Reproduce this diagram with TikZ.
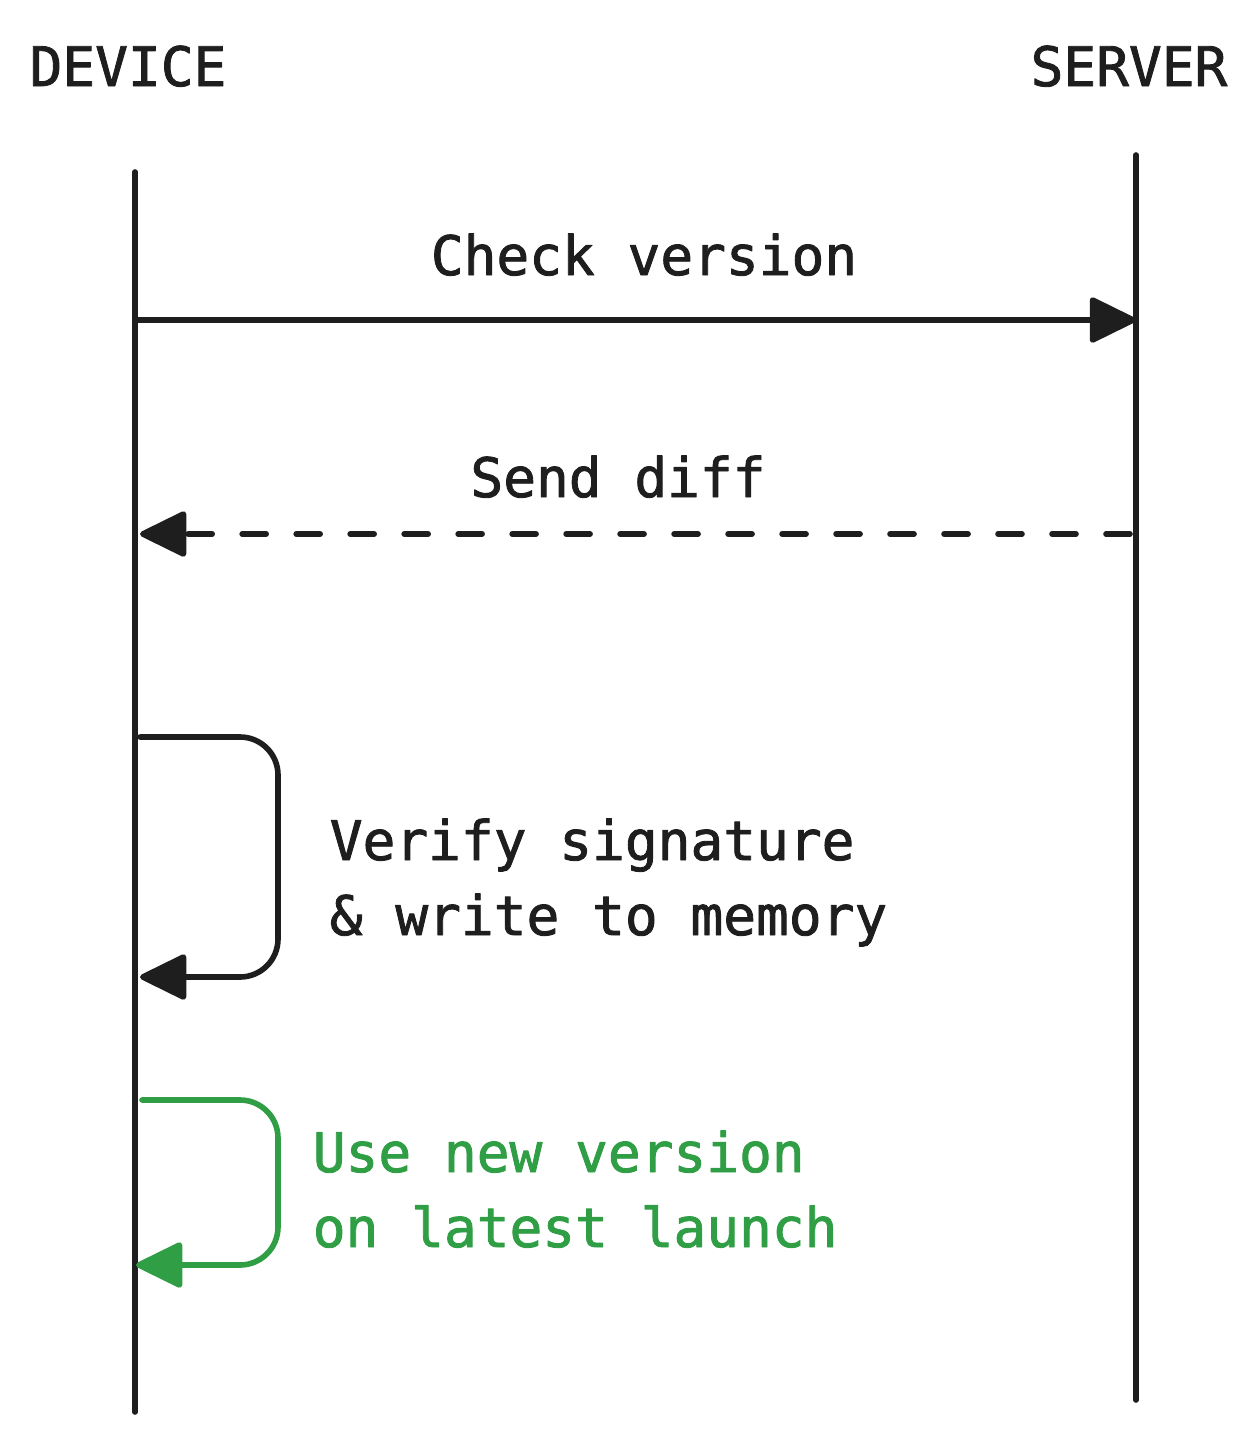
\documentclass[tikz,border=0pt]{standalone}
\usepackage{fontspec}
\setmonofont[FakeBold=1.6]{DejaVu Sans Mono}
\usetikzlibrary{arrows.meta,positioning}
\definecolor{inkgray}{HTML}{1E1E1E}
\definecolor{okgreen}{HTML}{2F9E44}

\begin{document}
\begin{tikzpicture}[x=0.02cm,y=-0.02cm,
    line width=3.2pt, line cap=round, line join=round,
    msg/.style={draw=inkgray,-{Triangle[length=1cm,width=0.95cm,round]}},
    txt/.style={font=\ttfamily\fontsize{31}{37}\selectfont,text=inkgray,inner sep=0pt}]
  \useasboundingbox (0,0) rectangle (1259,1441);
  % lifelines
  \coordinate (dev_top) at (135,172);
  \coordinate (dev_bot) at (135,1412);
  \coordinate (srv_top) at (1136,155);
  \coordinate (srv_bot) at (1136,1400);
  \node[txt,anchor=base] (device) at (128,86) {DEVICE};
  \node[txt,anchor=base] (server) at (1129,86) {SERVER};
  \draw[inkgray] (dev_top) -- (dev_bot);
  \draw[inkgray] (srv_top) -- (srv_bot);
  % check version
  \coordinate (check_a) at (138,320);
  \coordinate (check_b) at (1136,320);
  \draw[msg] (check_a) -- (check_b);
  \node[txt,anchor=base] (check) at (644,275) {Check version};
  % send diff
  \coordinate (diff_a) at (1130,534);
  \coordinate (diff_b) at (140,534);
  \draw[msg,dash pattern=on 0.48cm off 0.6cm] (diff_a) -- (diff_b);
  \node[txt,anchor=base] (diff) at (618,497) {Send diff};
  % verify loop
  \coordinate (verify_a) at (140,737);
  \coordinate (verify_b) at (140,977);
  \draw[msg,rounded corners=0.76cm] (verify_a) -- (278,737) -- (278,977) -- (verify_b);
  \node[txt,anchor=base west] (verify1) at (327,860) {Verify signature};
  \node[txt,anchor=base west] (verify2) at (327,935) {\& write to memory};
  % use new version loop
  \coordinate (use_a) at (142,1100);
  \coordinate (use_b) at (136,1265);
  \draw[msg,draw=okgreen,-{Triangle[length=1cm,width=0.95cm,round,fill=okgreen]},
    rounded corners=0.76cm] (use_a) -- (278,1100) -- (278,1265) -- (use_b);
  \node[txt,text=okgreen,anchor=base west] (use1) at (310,1172) {Use new version};
  \node[txt,text=okgreen,anchor=base west] (use2) at (310,1247) {on latest launch};
\end{tikzpicture}
\end{document}
